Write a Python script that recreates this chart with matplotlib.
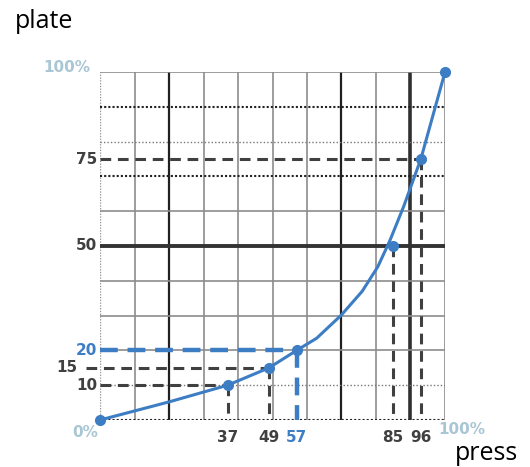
import matplotlib
matplotlib.use("Agg")
import matplotlib.pyplot as plt

# ---- data ----
curve_x = [0, 20, 37, 49, 57, 62.8, 70, 76, 80.5, 84, 88, 93, 100]
curve_y = [0, 5.2, 10, 15, 20, 23.5, 30.2, 37, 44, 51.5, 61.3, 75, 100]
point_x = [0, 37, 49, 57, 85, 93, 100]
point_y = [0, 10, 15, 20, 50, 75, 100]
# guide points (x position, y value) and their labels
guide_x = [37, 49, 57, 85, 93]
guide_y = [10, 15, 20, 50, 75]
x_labels = ["37", "49", "57", "85", "96"]
y_labels = ["10", "15", "20", "50", "75"]
guide_blue = [False, False, True, False, False]

BLUE = "#3d7dc4"
DARK = "#404040"
LIGHT = "#a9c6d4"
GRAY = "#8c8c8c"

fig = plt.figure(figsize=(5.30, 4.67), dpi=100)
ax = fig.add_axes([100 / 530, 47 / 467, 345 / 530, 348 / 467])
ax.set_xlim(0, 100)
ax.set_ylim(0, 100)
for s in ax.spines.values():
    s.set_visible(False)
ax.set_xticks([])
ax.set_yticks([])

# grid
for gx in range(10, 101, 10):
    if gx in (20, 70):
        ax.axvline(gx, color="#202020", lw=1.6, zorder=1)
    elif gx == 90:
        ax.axvline(gx, color="#303030", lw=2.6, zorder=1)
    else:
        ax.axvline(gx, color=GRAY, lw=1.2, zorder=1)
ax.axvline(0, color="#999999", lw=1.0, ls=(0, (1, 1)), zorder=1)
for gy in range(0, 101, 10):
    if gy in (20, 30, 40, 60, 100):
        ax.axhline(gy, color=GRAY, lw=1.2, zorder=1)
    elif gy == 50:
        ax.axhline(gy, color="#333333", lw=2.8, zorder=1)
    elif gy in (70, 90, 0):
        ax.axhline(gy, color="#222222", lw=1.5, ls=(0, (1, 1)), zorder=1)
    else:
        ax.axhline(gy, color="#777777", lw=1.0, ls=(0, (1, 1.5)), zorder=1)

# guide lines
for gx, gy, b in zip(guide_x, guide_y, guide_blue):
    col = BLUE if b else DARK
    lw = 3.2 if b else 2.2
    dash = (0, (4, 2.2)) if b else (0, (3.5, 2.2))
    x0 = -4 if gy == 15 else 0
    if gy != 50:
        ax.plot([x0, gx], [gy, gy], color=col, lw=lw, ls=dash, zorder=2, clip_on=False)
    ax.plot([gx, gx], [gy, 0], color=col, lw=lw, ls=dash, zorder=2, clip_on=False)

# curve
ax.plot(curve_x, curve_y, color=BLUE, lw=2.2, zorder=3, clip_on=False,
        solid_joinstyle="round")
ax.plot(point_x, point_y, ls="none", marker="o", ms=7, color=BLUE, zorder=4, clip_on=False)

# tick labels
fk = dict(fontsize=11, fontweight="bold", family="DejaVu Sans")
for gx, gy, lx, ly, b in zip(guide_x, guide_y, x_labels, y_labels, guide_blue):
    col = BLUE if b else DARK
    xoff = -16 if gy == 15 else -2
    ax.annotate(ly, (0, gy), xytext=(xoff, 0), textcoords="offset points",
                ha="right", va="center", color=col, **fk)
    ax.annotate(lx, (gx, 0), xytext=(0, -7), textcoords="offset points",
                ha="center", va="top", color=col, **fk)
ax.annotate("100%", (0, 100), xytext=(-7, 3), textcoords="offset points",
            ha="right", va="center", color=LIGHT, **fk)
ax.annotate("0%", (0, 0), xytext=(-20, -9), textcoords="offset points",
            ha="left", va="center", color=LIGHT, **fk)
ax.annotate("100%", (100, 0), xytext=(-5, -7), textcoords="offset points",
            ha="left", va="center", color=LIGHT, **fk)

fig.text(15 / 530, 1 - 22 / 467, "plate", fontsize=18, family="Open Sans",
         ha="left", va="center", color="black")
fig.text(455 / 530, 1 - 453 / 467, "press", fontsize=18, family="Open Sans",
         ha="left", va="center", color="black")

fig.savefig("out.png", dpi=100)
